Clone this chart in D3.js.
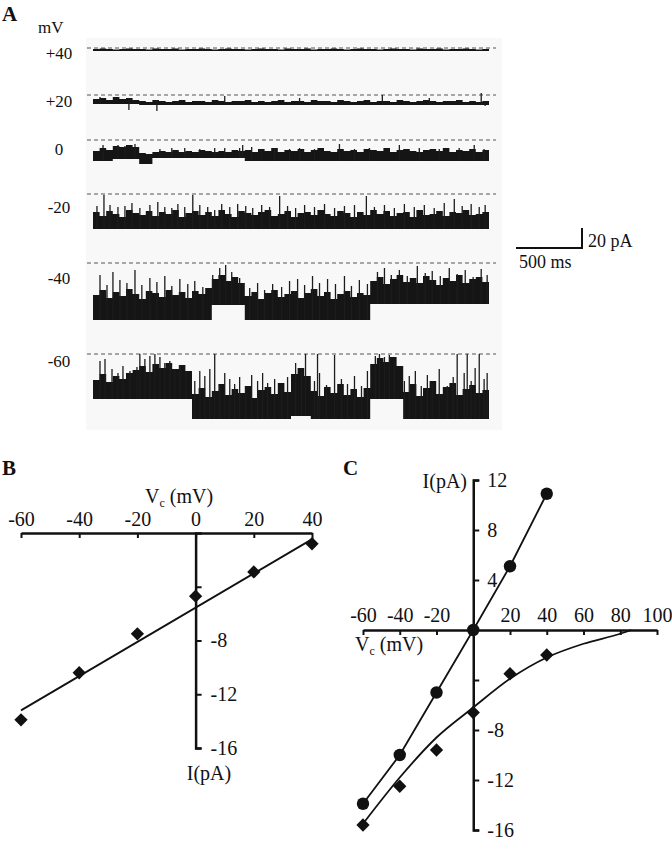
<!DOCTYPE html>
<html>
<head>
<meta charset="utf-8">
<script src="https://cdn.jsdelivr.net/npm/d3@7"></script>
<style>
  body { margin: 0; background: #fff; }
  text { font-family: "Liberation Serif", "Times New Roman", serif; fill: #111; }
</style>
</head>
<body>
<script>
// ---------- Panel A: single channel traces (pA relative to closed level) ----------
const voltLabels = ["+40", "+20", "0", "-20", "-40", "-60"];
const binMs = 50; // top edge of the dense band is read every 50 ms
// open level (band bottom): [t0 ms, t1 ms, pA]
const traceBottom = [
  [[0, 3000, -3]],
  [[0, 350, -9], [350, 3000, -10]],
  [[0, 150, -21], [150, 350, -19], [350, 450, -24], [450, 1150, -18], [1150, 3000, -21]],
  [[0, 3000, -35]],
  [[0, 900, -57], [900, 1150, -42], [1150, 2100, -57], [2100, 3000, -41]],
  [[0, 750, -45], [750, 1500, -65], [1500, 1650, -62], [1650, 2100, -65], [2100, 2350, -45], [2350, 3000, -65]]
];
// top of the dense band, one value per 50 ms bin (60 bins)
const traceTop = [
  [-1,-0.5,-1,-1.5,-1,-0.5,-1,-1,-1.5,-0.5,-1,-1,-0.5,-1.5,-1,-1,-0.5,-1,-1.5,-1,-0.5,-1,-1,-1.5,-1,-0.5,-1,-1,-1.5,-0.5,
   -1,-1,-0.5,-1.5,-1,-1,-0.5,-1,-1.5,-1,-0.5,-1,-1,-1.5,-1,-0.5,-1,-1,-1.5,-0.5,-1,-1,-0.5,-1.5,-1,-1,-0.5,-1,-1.5,-1],
  [-4,-3,-5,-2,-4,-3,-5,-6,-7,-5,-6,-7,-6,-5,-7,-6,-6,-7,-5,-6,-7,-6,-6,-5,-7,-6,-7,-6,-5,-7,
   -6,-6,-7,-5,-6,-6,-7,-5,-6,-7,-6,-5,-7,-6,-6,-7,-5,-6,-7,-6,-5,-6,-7,-6,-6,-5,-7,-6,-7,-6],
  [-11,-8,-10,-6,-7,-5,-7,-13,-14,-12,-11,-12,-10,-12,-11,-12,-10,-11,-12,-11,-12,-10,-11,-10,-12,-9,-11,-8,-12,-10,
   -11,-9,-12,-10,-8,-11,-12,-9,-11,-10,-12,-9,-10,-11,-8,-12,-10,-9,-11,-12,-10,-9,-11,-8,-12,-10,-11,-9,-12,-10],
  [-18,-22,-17,-20,-23,-16,-19,-21,-17,-22,-18,-20,-16,-23,-19,-17,-21,-18,-22,-16,-20,-23,-17,-19,-21,-18,-16,-22,-20,-17,
   -23,-19,-18,-21,-16,-20,-22,-17,-19,-23,-18,-21,-16,-20,-17,-22,-19,-18,-23,-16,-21,-20,-17,-22,-18,-19,-16,-21,-20,-18],
  [-32,-27,-35,-29,-33,-26,-31,-36,-28,-30,-34,-27,-32,-29,-35,-28,-31,-25,-16,-12,-18,-14,-20,-33,-29,-36,-30,-27,-34,-31,
   -28,-35,-30,-26,-33,-29,-36,-31,-28,-34,-30,-32,-18,-14,-21,-16,-12,-19,-15,-20,-13,-17,-22,-15,-18,-12,-20,-16,-14,-19],
  [-26,-20,-28,-22,-25,-19,-16,-12,-18,-10,-14,-9,-15,-11,-17,-40,-34,-43,-37,-30,-41,-35,-39,-32,-44,-36,-33,-40,-29,-38,
   -20,-14,-22,-37,-42,-33,-39,-30,-41,-35,-43,-34,-10,-4,-8,-3,-12,-38,-30,-42,-34,-27,-40,-33,-29,-41,-35,-31,-39,-36]
];
// brief excursions: [t ms, peak pA]
const traceSpikes = [
  [],
  [[53, -2], [272, -15], [484, -16], [998, -1], [1565, -3], [2192, 0], [2548, -3], [2941, 2], [2971, -11]],
  [[76, -5], [189, -5], [242, -6], [318, -4], [507, -9], [597, -8], [695, -8], [809, -9], [922, -8], [998, -8],
   [1111, -8], [1134, -5], [1202, -7], [1278, -9], [1376, -8], [1489, -9], [1565, -8], [1678, -9], [1867, -4],
   [1981, -9], [2094, -8], [2321, -5], [2472, -8], [2623, -9], [2774, -8], [2888, -5], [2963, -9]],
  [[30, -12], [83, -1], [129, -11], [189, -13], [242, -12], [295, -9], [355, -14], [431, -11], [491, -8], [544, -13],
   [597, -14], [643, -10], [695, -13], [756, -1], [809, -11], [869, -13], [922, -16], [975, -10], [1036, -13], [1096, -10],
   [1157, -12], [1210, -14], [1278, -11], [1338, -13], [1414, -2], [1474, -12], [1535, -14], [1603, -11], [1678, -13],
   [1754, -10], [1830, -14], [1905, -12], [1981, -11], [2071, -2], [2132, -13], [2208, -11], [2283, -14], [2359, -10],
   [2434, -13], [2510, -11], [2585, -14], [2661, -9], [2737, -5], [2797, -12], [2865, -10], [2926, -13], [2971, -11]],
  [[53, -12], [106, -22], [151, -9], [204, -17], [257, -20], [318, -7], [370, -22], [431, -15], [484, -19], [544, -13],
   [597, -23], [658, -16], [718, -21], [771, -18], [832, -24], [907, -12], [960, -5], [1005, -2], [1051, -9], [1111, -15],
   [1187, -25], [1247, -20], [1300, -27], [1361, -21], [1429, -24], [1489, -18], [1550, -16], [1603, -22], [1663, -13],
   [1716, -20], [1777, -16], [1837, -21], [1905, -13], [1958, -23], [2018, -17], [2079, -21], [2155, -9], [2208, -5],
   [2260, -12], [2321, -7], [2381, -13], [2457, -3], [2517, -10], [2570, -8], [2631, -13], [2699, -5], [2759, -11],
   [2820, -7], [2880, -14], [2941, -6], [2986, -12]],
  [[53, -7], [91, -5], [144, -15], [189, -19], [227, -12], [280, -17], [333, -13], [355, 0], [393, -5], [431, -2],
   [469, 0], [507, -3], [544, -9], [582, -7], [620, -15], [658, -11], [703, -17], [771, -27], [809, -17], [847, -22],
   [885, -15], [922, 0], [960, -32], [998, -19], [1036, -25], [1073, -30], [1111, -23], [1157, -33], [1202, -21],
   [1247, -27], [1285, -19], [1323, -29], [1376, -25], [1429, -32], [1474, -23], [1535, -9], [1580, -17], [1610, 0],
   [1678, -27], [1701, 0], [1716, -19], [1769, -31], [1830, -1], [1882, -25], [1928, -30], [1981, -22], [2034, -32],
   [2079, -17], [2139, -2], [2170, 0], [2208, -3], [2245, -1], [2283, -7], [2359, -27], [2396, -22], [2442, -17],
   [2487, -32], [2533, -21], [2570, -30], [2623, -15], [2684, -32], [2729, -23], [2759, 0], [2812, -19], [2835, 0],
   [2865, -27], [2895, -14], [2926, 0], [2963, -25], [2986, -19]]
];
const scaleBarMs = 500, scaleBarPA = 20;

// ---------- Panel B ----------
const bVolt = [-60, -40, -20, 0, 20, 40];
const bCurr = [-13.9, -10.4, -7.5, -4.7, -2.9, -0.8];
const bFit = [[-60, -13.2], [40.5, -0.4]];
const bXTicks = [-60, -40, -20, 0, 20, 40];
const bYTicks = [-4, -8, -12, -16];

// ---------- Panel C ----------
const cVolt = [-60, -40, -20, 0, 20, 40];
const cCurrCircle = [-13.9, -10.0, -5.0, 0, 5.1, 10.9];
const cCurrDiamond = [-15.6, -12.5, -9.6, -6.6, -3.5, -2.0];
const cFitDiamond = [[-60, -15.5], [-40, -11.8], [-20, -8.6], [0, -6.2], [20, -3.9], [40, -2.2], [60, -1.1], [80, -0.3], [86, 0]];
const cXTicks = [-60, -40, -20, 20, 40, 60, 80, 100];
const cYTicks = [12, 8, 4, -4, -8, -12, -16];

const W = 672, H = 841;
const svg = d3.select("body").append("svg").attr("width", W).attr("height", H);
const serif = '"Liberation Serif", "Times New Roman", serif';

function panelLetter(t, x, y) {
  svg.append("text").attr("x", x).attr("y", y).attr("font-size", 21).attr("font-weight", "bold").text(t);
}

// ===== Panel A =====
panelLetter("A", 2, 21);
svg.append("text").attr("x", 38).attr("y", 33).attr("font-size", 17).text("mV");
svg.append("rect").attr("x", 86).attr("y", 38).attr("width", 416).attr("height", 392).attr("fill", "#f8f8f8");

const rowY = [48, 95, 140, 194, 263, 354];      // closed level (dashed line) per row
const labelY = [53, 101, 149, 207, 278, 361];
const tx = d3.scaleLinear().domain([0, 3000]).range([93, 489]);
const pxPerPA = 1;

voltLabels.forEach((lab, i) => {
  const yy = d3.scaleLinear().domain([0, -80]).range([rowY[i], rowY[i] + 80 * pxPerPA]);
  svg.append("text").attr("x", 59).attr("y", labelY[i]).attr("dy", "0.35em")
    .attr("text-anchor", "middle").attr("font-size", 17).text(lab);
  svg.append("line").attr("x1", 87).attr("x2", 496).attr("y1", yy(0)).attr("y2", yy(0))
    .attr("stroke", "#555").attr("stroke-width", 1.2).attr("stroke-dasharray", "4,3");

  const bottomAt = t => (traceBottom[i].find(s => t >= s[0] && t < s[1]) || traceBottom[i][traceBottom[i].length - 1])[2];
  const bins = traceTop[i].map((v, k) => ({ t: k * binMs, top: v, bot: bottomAt(k * binMs) }));
  bins.push({ t: 3000, top: bins[bins.length - 1].top, bot: bins[bins.length - 1].bot });

  const band = d3.area().x(d => tx(d.t)).y0(d => yy(d.bot)).y1(d => yy(d.top)).curve(d3.curveStepAfter);
  const g = svg.append("g");
  g.append("path").datum(bins).attr("d", band).attr("fill", "#151515");
  g.selectAll("line").data(traceSpikes[i]).enter().append("line")
    .attr("x1", d => tx(d[0])).attr("x2", d => tx(d[0]))
    .attr("y1", d => {
      const b = bins[Math.min(59, Math.floor(d[0] / binMs))];
      return d[1] < b.bot ? yy(b.top) : yy(b.bot);
    })
    .attr("y2", d => yy(d[1]))
    .attr("stroke", "#1c1c1c").attr("stroke-width", 1.3);
});

// scale bar
const sbX = 582, sbY = 248;
const sbLen = tx(scaleBarMs) - tx(0);
svg.append("path")
  .attr("d", `M${sbX - sbLen},${sbY}H${sbX}V${sbY - scaleBarPA * pxPerPA}`)
  .attr("fill", "none").attr("stroke", "#111").attr("stroke-width", 2);
svg.append("text").attr("x", 588).attr("y", 247).attr("font-size", 18).text(scaleBarPA + " pA");
svg.append("text").attr("x", 519).attr("y", 268).attr("font-size", 18).text(scaleBarMs + " ms");

// ===== helpers for IV panels =====
function styleAxis(g) {
  g.select(".domain").attr("stroke", "#111").attr("stroke-width", 2.5);
  g.selectAll(".tick line").attr("stroke", "#111").attr("stroke-width", 2);
  g.selectAll(".tick text").attr("font-size", 20).attr("font-family", serif).attr("fill", "#111");
  g.attr("font-family", serif);
}
function diamonds(g, pts) {
  g.selectAll(null).data(pts).enter().append("path")
    .attr("d", d3.symbol(d3.symbolSquare, 88)())
    .attr("transform", d => `translate(${d[0]},${d[1]}) rotate(45)`)
    .attr("fill", "#111");
}
function circles(g, pts) {
  g.selectAll(null).data(pts).enter().append("circle")
    .attr("cx", d => d[0]).attr("cy", d => d[1]).attr("r", 6.2).attr("fill", "#111");
}
function vcLabel(x, y, anchor) {
  const t = svg.append("text").attr("x", x).attr("y", y).attr("font-size", 20).attr("text-anchor", anchor);
  t.append("tspan").text("V");
  t.append("tspan").attr("font-size", 12).attr("dy", 4).text("c");
  t.append("tspan").attr("dy", -4).text(" (mV)");
}

// ===== Panel B =====
panelLetter("B", 2, 475);
const bx = d3.scaleLinear().domain([-60, 40]).range([21, 312]);
const by = d3.scaleLinear().domain([-16, 0]).range([748, 533]);

svg.append("g").attr("transform", `translate(0,${by(0)})`)
  .call(d3.axisTop(bx).tickValues(bXTicks).tickSizeInner(-5).tickSizeOuter(0).tickPadding(7).tickFormat(d => String(d)))
  .call(styleAxis);
svg.append("g").attr("transform", `translate(${bx(0)},0)`)
  .call(d3.axisRight(by).tickValues(bYTicks).tickSizeInner(6).tickSizeOuter(6).tickPadding(9)
    .tickFormat(d => d === -4 ? "" : String(d)))
  .call(styleAxis);
vcLabel(179, 503, "middle");
svg.append("text").attr("x", 209).attr("y", 780).attr("font-size", 20).attr("text-anchor", "middle").text("I(pA)");

const bLine = d3.line().x(d => bx(d[0])).y(d => by(d[1]));
svg.append("path").attr("d", bLine(bFit)).attr("fill", "none").attr("stroke", "#111").attr("stroke-width", 1.8);
diamonds(svg.append("g"), bVolt.map((v, i) => [bx(v), by(bCurr[i])]));

// ===== Panel C =====
panelLetter("C", 343, 475);
const cx = d3.scaleLinear().domain([-60, 100]).range([363, 657]);
const cy = d3.scaleLinear().domain([-16, 12]).range([830, 480]);

svg.append("g").attr("transform", `translate(0,${cy(0)})`)
  .call(d3.axisTop(cx).tickValues(cXTicks).tickSizeInner(-5).tickSizeOuter(0).tickPadding(8).tickFormat(d => String(d)))
  .call(styleAxis);
svg.append("g").attr("transform", `translate(${cx(0)},0)`)
  .call(d3.axisRight(cy).tickValues(cYTicks).tickSizeInner(6).tickSizeOuter(6).tickPadding(8)
    .tickFormat(d => d === -4 ? "" : String(d)))
  .call(styleAxis);
vcLabel(355, 651, "start");
svg.append("text").attr("x", 467).attr("y", 488).attr("font-size", 20).attr("text-anchor", "end").text("I(pA)");

const cLine = d3.line().x(d => cx(d[0])).y(d => cy(d[1]));
svg.append("path").attr("d", cLine(cVolt.map((v, i) => [v, cCurrCircle[i]])))
  .attr("fill", "none").attr("stroke", "#111").attr("stroke-width", 1.8);
svg.append("path").attr("d", cLine.curve(d3.curveMonotoneX)(cFitDiamond))
  .attr("fill", "none").attr("stroke", "#111").attr("stroke-width", 1.8);
circles(svg.append("g"), cVolt.map((v, i) => [cx(v), cy(cCurrCircle[i])]));
diamonds(svg.append("g"), cVolt.map((v, i) => [cx(v), cy(cCurrDiamond[i])]));
</script>
</body>
</html>
